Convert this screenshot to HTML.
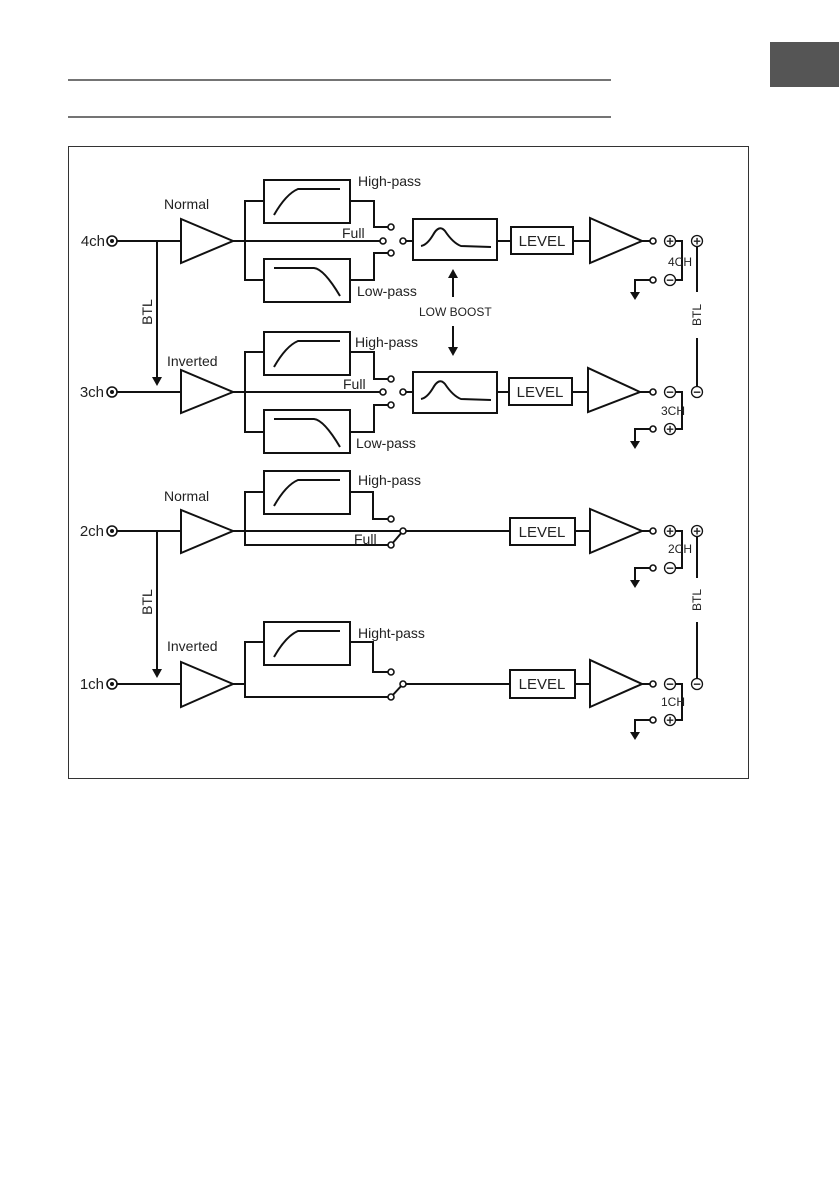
<!DOCTYPE html>
<html><head><meta charset="utf-8"><style>
html,body{margin:0;padding:0;background:#fff;}
svg{display:block;}
text{font-family:"Liberation Sans",sans-serif;fill:#222;}
</style></head><body>
<svg width="839" height="1191" viewBox="0 0 839 1191" xmlns="http://www.w3.org/2000/svg">
<rect x="770" y="42" width="69" height="45" fill="#555"/>
<line x1="68" y1="80" x2="611" y2="80" stroke="#222" stroke-width="1.2"/>
<line x1="68" y1="117" x2="611" y2="117" stroke="#222" stroke-width="1.2"/>
<rect x="68.5" y="146.5" width="680" height="632" fill="none" stroke="#333" stroke-width="1"/>
<defs>
<g id="hp"><rect x="0" y="0" width="86" height="43" fill="#fff" stroke="#111" stroke-width="2"/><path d="M10 35 Q22 14 34 9 L76 9" fill="none" stroke="#111" stroke-width="2"/></g>
<g id="lp"><rect x="0" y="0" width="86" height="43" fill="#fff" stroke="#111" stroke-width="2"/><path d="M10 9 L50 9 Q60 10 76 37" fill="none" stroke="#111" stroke-width="2"/></g>
<g id="bst"><rect x="0" y="0" width="84" height="41" fill="#fff" stroke="#111" stroke-width="2"/><path d="M8 27 Q14 26 20 16 Q26 5 32 12 Q40 24 48 27 L78 28" fill="none" stroke="#111" stroke-width="2"/></g>
<g id="jack"><circle r="5" fill="#fff" stroke="#111" stroke-width="1.6"/><circle r="2" fill="#111"/></g>
<g id="gnd"><path d="M0 0 L-15 0 L-15 14" fill="none" stroke="#111" stroke-width="2"/><path d="M-20 12 L-10 12 L-15 20 Z" fill="#111"/></g>
</defs>
<g stroke="#111" stroke-width="2" fill="none">
<line x1="117" y1="241" x2="181" y2="241"/>
<polygon points="181,219 181,263 233,241" fill="#fff"/>
<line x1="233" y1="241" x2="380" y2="241"/>
<polyline points="264,201 245,201 245,280 264,280"/>
<polyline points="350,201 374,201 374,227 388,227"/>
<polyline points="350,280 374,280 374,253 388,253"/>
<line x1="406" y1="241" x2="413" y2="241"/>
<line x1="497" y1="241" x2="511" y2="241"/>
<line x1="573" y1="241" x2="590" y2="241"/>
<line x1="640" y1="241" x2="650" y2="241"/>
<line x1="117" y1="392" x2="181" y2="392"/>
<polygon points="181,370 181,413 233,392" fill="#fff"/>
<line x1="233" y1="392" x2="380" y2="392"/>
<polyline points="264,352 245,352 245,432 264,432"/>
<polyline points="350,352 374,352 374,379 388,379"/>
<polyline points="350,432 374,432 374,405 388,405"/>
<line x1="406" y1="392" x2="413" y2="392"/>
<line x1="497" y1="392" x2="509" y2="392"/>
<line x1="572" y1="392" x2="588" y2="392"/>
<line x1="640" y1="392" x2="650" y2="392"/>
<line x1="117" y1="531" x2="181" y2="531"/>
<polygon points="181,510 181,553 233,531" fill="#fff"/>
<line x1="233" y1="531" x2="400" y2="531"/>
<polyline points="264,492 245,492 245,545 388,545"/>
<polyline points="350,492 373,492 373,519 388,519"/>
<line x1="391" y1="545" x2="403" y2="531"/>
<line x1="406" y1="531" x2="510" y2="531"/>
<line x1="575" y1="531" x2="590" y2="531"/>
<line x1="640" y1="531" x2="650" y2="531"/>
<line x1="117" y1="684" x2="181" y2="684"/>
<polygon points="181,662 181,707 233,684" fill="#fff"/>
<polyline points="233,684 245,684"/>
<polyline points="264,642 245,642 245,697 388,697"/>
<polyline points="350,642 373,642 373,672 388,672"/>
<line x1="391" y1="697" x2="403" y2="684"/>
<line x1="406" y1="684" x2="510" y2="684"/>
<line x1="575" y1="684" x2="590" y2="684"/>
<line x1="640" y1="684" x2="650" y2="684"/>
<line x1="157" y1="241" x2="157" y2="378"/>
<line x1="157" y1="531" x2="157" y2="670"/>
<polyline points="675,241 682,241 682,280 675,280"/>
<polyline points="675,392 682,392 682,429 675,429"/>
<polyline points="675,531 682,531 682,568 675,568"/>
<polyline points="675,684 682,684 682,720 675,720"/>
<line x1="697" y1="247" x2="697" y2="292"/><line x1="697" y1="338" x2="697" y2="386"/>
<line x1="697" y1="537" x2="697" y2="578"/><line x1="697" y1="622" x2="697" y2="678"/>
<line x1="453" y1="277" x2="453" y2="297"/>
<line x1="453" y1="326" x2="453" y2="348"/>
</g>
<g fill="#111">
<path d="M152 377 L162 377 L157 386 Z"/>
<path d="M152 669 L162 669 L157 678 Z"/>
<path d="M448 278 L458 278 L453 269 Z"/>
<path d="M448 347 L458 347 L453 356 Z"/>
</g>
<use href="#hp" x="264" y="180"/><use href="#lp" x="264" y="259"/>
<use href="#hp" x="264" y="332"/><use href="#lp" x="264" y="410"/>
<use href="#hp" x="264" y="471"/><use href="#hp" x="264" y="622"/>
<use href="#bst" x="413" y="219"/><use href="#bst" x="413" y="372"/>
<g fill="#fff" stroke="#111" stroke-width="2">
<rect x="511" y="227" width="62" height="27"/>
<rect x="509" y="378" width="63" height="27"/>
<rect x="510" y="518" width="65" height="27"/>
<rect x="510" y="670" width="65" height="28"/>
<polygon points="590,218 590,263 642,241"/>
<polygon points="588,368 588,412 640,392"/>
<polygon points="590,509 590,553 642,531"/>
<polygon points="590,660 590,707 642,684"/>
</g>
<g font-size="15" text-anchor="middle">
<text x="542" y="246">LEVEL</text><text x="540" y="397">LEVEL</text>
<text x="542" y="537">LEVEL</text><text x="542" y="689">LEVEL</text>
</g>
<use href="#jack" x="112" y="241"/><use href="#jack" x="112" y="392"/>
<use href="#jack" x="112" y="531"/><use href="#jack" x="112" y="684"/>
<g fill="#fff" stroke="#111" stroke-width="1.6">
<circle cx="391" cy="227" r="3"/><circle cx="383" cy="241" r="3"/><circle cx="403" cy="241" r="3"/><circle cx="391" cy="253" r="3"/>
<circle cx="391" cy="379" r="3"/><circle cx="383" cy="392" r="3"/><circle cx="403" cy="392" r="3"/><circle cx="391" cy="405" r="3"/>
<circle cx="391" cy="519" r="3"/><circle cx="403" cy="531" r="3"/><circle cx="391" cy="545" r="3"/>
<circle cx="391" cy="672" r="3"/><circle cx="403" cy="684" r="3"/><circle cx="391" cy="697" r="3"/>
<circle cx="653" cy="241" r="3"/><circle cx="653" cy="280" r="3"/>
<circle cx="653" cy="392" r="3"/><circle cx="653" cy="429" r="3"/>
<circle cx="653" cy="531" r="3"/><circle cx="653" cy="568" r="3"/>
<circle cx="653" cy="684" r="3"/><circle cx="653" cy="720" r="3"/>
</g>
<use href="#gnd" x="650" y="280"/><use href="#gnd" x="650" y="429"/>
<use href="#gnd" x="650" y="568"/><use href="#gnd" x="650" y="720"/>
<g text-anchor="middle" dominant-baseline="central" font-size="13" font-weight="bold">
<circle cx="670" cy="241" r="5.5" fill="#fff" stroke="#111" stroke-width="1.3"/><text x="670" y="241">+</text>
<circle cx="670" cy="280" r="5.5" fill="#fff" stroke="#111" stroke-width="1.3"/><text x="670" y="280">−</text>
<circle cx="670" cy="392" r="5.5" fill="#fff" stroke="#111" stroke-width="1.3"/><text x="670" y="392">−</text>
<circle cx="670" cy="429" r="5.5" fill="#fff" stroke="#111" stroke-width="1.3"/><text x="670" y="429">+</text>
<circle cx="670" cy="531" r="5.5" fill="#fff" stroke="#111" stroke-width="1.3"/><text x="670" y="531">+</text>
<circle cx="670" cy="568" r="5.5" fill="#fff" stroke="#111" stroke-width="1.3"/><text x="670" y="568">−</text>
<circle cx="670" cy="684" r="5.5" fill="#fff" stroke="#111" stroke-width="1.3"/><text x="670" y="684">−</text>
<circle cx="670" cy="720" r="5.5" fill="#fff" stroke="#111" stroke-width="1.3"/><text x="670" y="720">+</text>
<circle cx="697" cy="241" r="5.5" fill="#fff" stroke="#111" stroke-width="1.3"/><text x="697" y="241">+</text>
<circle cx="697" cy="392" r="5.5" fill="#fff" stroke="#111" stroke-width="1.3"/><text x="697" y="392">−</text>
<circle cx="697" cy="531" r="5.5" fill="#fff" stroke="#111" stroke-width="1.3"/><text x="697" y="531">+</text>
<circle cx="697" cy="684" r="5.5" fill="#fff" stroke="#111" stroke-width="1.3"/><text x="697" y="684">−</text>
</g>
<g font-size="15" text-anchor="end">
<text x="105" y="246">4ch</text><text x="104" y="397">3ch</text>
<text x="104" y="536">2ch</text><text x="104" y="689">1ch</text>
</g>
<g font-size="14">
<text x="164" y="209">Normal</text><text x="167" y="366">Inverted</text>
<text x="164" y="501">Normal</text><text x="167" y="651">Inverted</text>
<text x="358" y="186">High-pass</text><text x="357" y="296">Low-pass</text>
<text x="355" y="347">High-pass</text><text x="356" y="448">Low-pass</text>
<text x="358" y="485">High-pass</text><text x="358" y="638">Hight-pass</text>
<text x="342" y="238">Full</text><text x="343" y="389">Full</text><text x="354" y="544">Full</text>
</g>
<g font-size="12">
<text x="419" y="316">LOW BOOST</text>
<text x="668" y="266">4CH</text><text x="661" y="415">3CH</text>
<text x="668" y="553">2CH</text><text x="661" y="706">1CH</text>
<text transform="translate(701,315) rotate(-90)" text-anchor="middle">BTL</text>
<text transform="translate(701,600) rotate(-90)" text-anchor="middle">BTL</text>
</g>
<g font-size="14">
<text transform="translate(152,312) rotate(-90)" text-anchor="middle">BTL</text>
<text transform="translate(152,602) rotate(-90)" text-anchor="middle">BTL</text>
</g>
</svg>
</body></html>
